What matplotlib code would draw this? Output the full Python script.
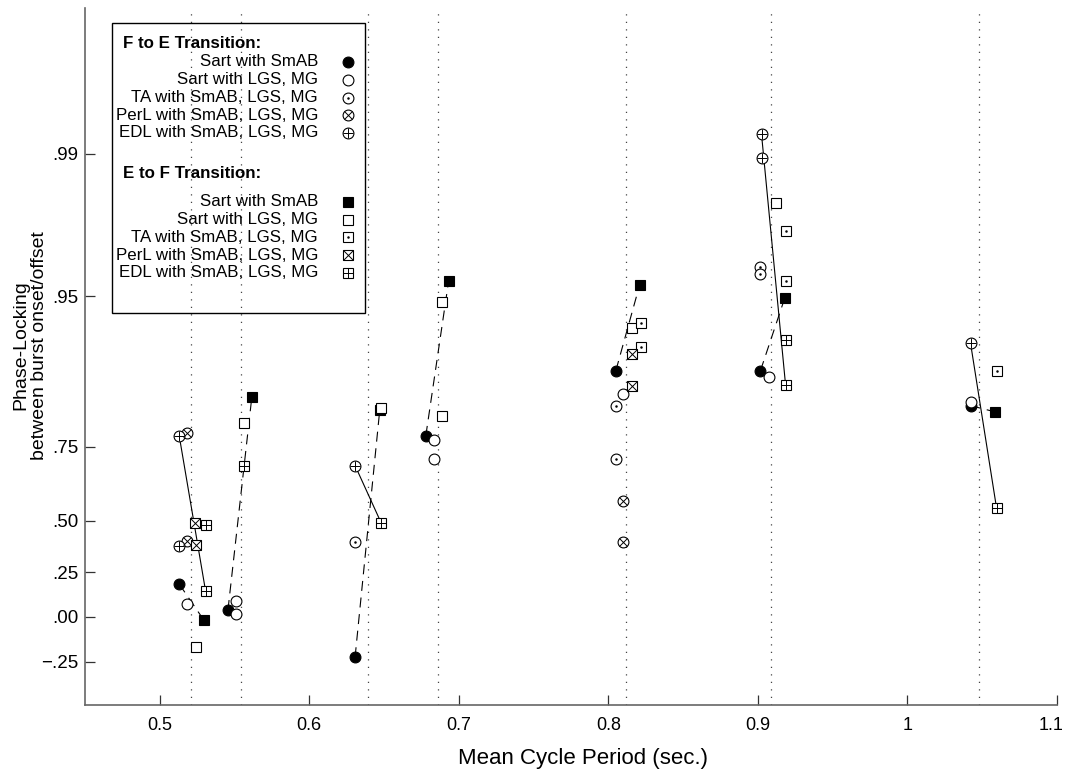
import numpy as np
import matplotlib
matplotlib.use('Agg')
import matplotlib.pyplot as plt
from matplotlib import font_manager
from matplotlib.patches import Rectangle
import matplotlib.transforms as mtransforms

# ---------------- data (phase-locking values) ----------------
# F to E transition
sart_smab_fe_x = [0.513, 0.5456, 0.6306, 0.6779, 0.805, 0.9017, 1.0422]
sart_smab_fe_y = [0.186, 0.040, -0.226, 0.776, 0.887, 0.887, 0.836]
sart_lgs_fe_x = [0.518, 0.5513, 0.5513, 0.6835, 0.6835, 0.8101, 0.9072, 1.0422]
sart_lgs_fe_y = [0.074, 0.093, 0.015, 0.766, 0.717, 0.855, 0.879, 0.842]
ta_fe_x = [0.6306, 0.805, 0.805, 0.9017, 0.9017]
ta_fe_y = [0.406, 0.836, 0.717, 0.964, 0.961]
perl_fe_x = [0.518, 0.518, 0.8101, 0.8101]
perl_fe_y = [0.783, 0.410, 0.581, 0.406]
edl_fe_x = [0.513, 0.513, 0.6306, 0.9024, 0.9024, 1.0422]
edl_fe_y = [0.776, 0.385, 0.699, 0.992, 0.9895, 0.916]
# E to F transition
sart_smab_ef_x = [0.5294, 0.5616, 0.6471, 0.6932, 0.8209, 0.9179, 1.0585]
sart_smab_ef_y = [-0.017, 0.851, 0.828, 0.958, 0.956, 0.949, 0.825]
sart_lgs_ef_x = [0.5243, 0.5564, 0.6482, 0.6885, 0.6885, 0.8155, 0.9123]
sart_lgs_ef_y = [-0.168, 0.803, 0.832, 0.947, 0.818, 0.929, 0.9825]
ta_ef_x = [0.8221, 0.8221, 0.9185, 0.9185, 1.0596]
ta_ef_y = [0.933, 0.913, 0.976, 0.958, 0.886]
perl_ef_x = [0.5238, 0.5243, 0.8155, 0.8155]
perl_ef_y = [0.490, 0.390, 0.906, 0.867]
edl_ef_x = [0.5306, 0.5306, 0.5564, 0.648, 0.9185, 0.9185, 1.0596]
edl_ef_y = [0.482, 0.149, 0.698, 0.492, 0.919, 0.868, 0.552]

# connections: Sart SmAB F->E to E->F (dashed), EDL F->E to E->F (solid)
sart_pairs = [(0, 0), (1, 1), (2, 2), (3, 3), (4, 4), (5, 5), (6, 6)]
edl_pairs = [(0, 1), (2, 3), (3, 5), (5, 6)]

# mean cycle periods (dotted verticals)
period_x = [0.521, 0.554, 0.639, 0.686, 0.812, 0.909, 1.048]

xticks = [0.5, 0.6, 0.7, 0.8, 0.9, 1.0, 1.1]
xtick_labels = ['0.5', '0.6', '0.7', '0.8', '0.9', '1', '1.1']
yticks = [-0.25, 0.0, 0.25, 0.50, 0.75, 0.95, 0.99]
ytick_labels = ['\u2212.25', '.00', '.25', '.50', '.75', '.95', '.99']

legend_fe = ['Sart with SmAB', 'Sart with LGS, MG', 'TA with SmAB, LGS, MG',
             'PerL with SmAB, LGS, MG', 'EDL with SmAB, LGS, MG']
legend_ef = legend_fe

# ---------------- fonts ----------------
def have(name):
    try:
        font_manager.findfont(font_manager.FontProperties(family=name), fallback_to_default=False)
        return True
    except Exception:
        return False

base_font = 'Liberation Sans' if have('Liberation Sans') else 'DejaVu Sans'
narrow_font = base_font
for cand in ['Liberation Sans Narrow', 'DejaVu Sans Condensed']:
    if have(cand):
        narrow_font = cand
        break
plt.rcParams['font.family'] = [base_font, 'DejaVu Sans']

# ---------------- figure ----------------
W, H = 1067, 771
fig = plt.figure(figsize=(W / 100, H / 100), dpi=100)
L, R, T, B = 85, 1057, 8, 705
ax = fig.add_axes([L / W, (H - B) / H, (R - L) / W, (B - T) / H])

fwd = lambda v: np.arctanh(np.clip(v, -0.9999999, 0.9999999))
inv = lambda z: np.tanh(z)
ax.set_yscale('function', functions=(fwd, inv))
ax.set_xlim(0.45, 1.1)
ax.set_ylim(np.tanh(-0.503), np.tanh(3.48))

for s in ['top', 'right']:
    ax.spines[s].set_visible(False)
for s in ['left', 'bottom']:
    ax.spines[s].set_color('#666666')
    ax.spines[s].set_linewidth(1.2)

ax.set_xticks(xticks)
ax.set_xticklabels(xtick_labels, fontsize=13, family=[narrow_font, 'DejaVu Sans'])
ax.set_yticks(yticks)
ax.set_yticklabels(ytick_labels, fontsize=13.5)
ax.minorticks_off()
ax.tick_params(direction='in', length=7, width=0.9, color='#333333')
ax.tick_params(axis='x', pad=9)
ax.tick_params(axis='y', pad=5)
# keep the last x label inside the canvas
last = ax.get_xticklabels()[-1]
last.set_transform(last.get_transform() +
                   mtransforms.ScaledTranslation(-6 / 100, 0, fig.dpi_scale_trans))

ax.set_xlabel('Mean Cycle Period (sec.)', fontsize=16, family=[narrow_font, 'DejaVu Sans'])
ax.xaxis.set_label_coords(0.512, -0.062)
ax.set_ylabel('Phase-Locking\nbetween burst onset/offset', fontsize=14,
              family=[narrow_font, 'DejaVu Sans'], linespacing=1.1)
ax.yaxis.set_label_coords(-0.038, 0.516)

for px in period_x:
    ax.axvline(px, color='#444444', lw=0.9, ls=(0, (1, 5)), zorder=1)

# connecting lines
for i, j in sart_pairs:
    ax.plot([sart_smab_fe_x[i], sart_smab_ef_x[j]], [sart_smab_fe_y[i], sart_smab_ef_y[j]],
            color='black', lw=0.8, ls=(0, (9, 6)), zorder=2)
for i, j in edl_pairs:
    ax.plot([edl_fe_x[i], edl_ef_x[j]], [edl_fe_y[i], edl_ef_y[j]],
            color='black', lw=0.8, ls='-', zorder=2)

CIRC, SQ = 7.8, 6.5

def draw(x, y, base, overlay=None, filled=False, transform=None, z=3):
    kw = {} if transform is None else {'transform': transform, 'clip_on': False}
    ms = CIRC if base == 'o' else SQ
    ax.plot(x, y, ls='none', marker=base, ms=ms, mfc='black' if filled else 'white',
            mec='black', mew=0.8, zorder=z, **kw)
    if overlay == 'dot':
        ax.plot(x, y, ls='none', marker='o', ms=1.8, mfc='black', mec='black', mew=0,
                zorder=z + 0.1, **kw)
    elif overlay == 'x':
        ax.plot(x, y, ls='none', marker='x', ms=ms * (0.707 if base == 'o' else 1.0),
                mec='black', mew=0.7, zorder=z + 0.1, **kw)
    elif overlay == '+':
        ax.plot(x, y, ls='none', marker='+', ms=ms, mec='black', mew=0.7,
                zorder=z + 0.1, **kw)

styles_fe = [('o', None, True), ('o', None, False), ('o', 'dot', False),
             ('o', 'x', False), ('o', '+', False)]
styles_ef = [('s', None, True), ('s', None, False), ('s', 'dot', False),
             ('s', 'x', False), ('s', '+', False)]
series_fe = [(sart_smab_fe_x, sart_smab_fe_y), (sart_lgs_fe_x, sart_lgs_fe_y),
             (ta_fe_x, ta_fe_y), (perl_fe_x, perl_fe_y), (edl_fe_x, edl_fe_y)]
series_ef = [(sart_smab_ef_x, sart_smab_ef_y), (sart_lgs_ef_x, sart_lgs_ef_y),
             (ta_ef_x, ta_ef_y), (perl_ef_x, perl_ef_y), (edl_ef_x, edl_ef_y)]

for (xs, ys), (b, o, f) in zip(series_fe, styles_fe):
    draw(xs, ys, b, o, f)
for (xs, ys), (b, o, f) in zip(series_ef, styles_ef):
    draw(xs, ys, b, o, f)

# ---------------- legend (manual, right-aligned text) ----------------
fx = lambda p: (p - L) / (R - L)
fy = lambda p: (B - p) / (B - T)
ax.add_patch(Rectangle((fx(112), fy(313)), fx(365) - fx(112), fy(23) - fy(313),
                       transform=ax.transAxes, fill=False, ec='black', lw=1.0,
                       clip_on=False, zorder=4))
LFS = 12.2
ax.text(fx(123), fy(43), 'F to E Transition:', transform=ax.transAxes, fontsize=LFS,
        fontweight='bold', ha='left', va='center')
ax.text(fx(123), fy(173), 'E to F Transition:', transform=ax.transAxes, fontsize=LFS,
        fontweight='bold', ha='left', va='center')
rows_fe = [62, 80, 97.5, 115, 132.5]
rows_ef = [202, 219.5, 237.3, 255, 272.5]
for lab, ry, (b, o, f) in zip(legend_fe, rows_fe, styles_fe):
    ax.text(fx(318), fy(ry), lab, transform=ax.transAxes, fontsize=LFS, ha='right', va='center')
    draw([fx(348)], [fy(ry)], b, o, f, transform=ax.transAxes, z=5)
for lab, ry, (b, o, f) in zip(legend_ef, rows_ef, styles_ef):
    ax.text(fx(318), fy(ry), lab, transform=ax.transAxes, fontsize=LFS, ha='right', va='center')
    draw([fx(348)], [fy(ry)], b, o, f, transform=ax.transAxes, z=5)

fig.savefig('out.png', dpi=100)
